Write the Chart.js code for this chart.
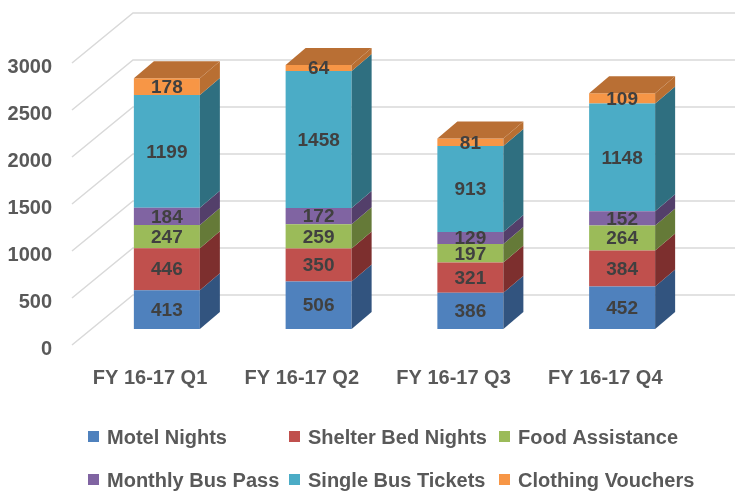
<!DOCTYPE html>
<html>
<head>
<meta charset="utf-8">
<script src="https://cdn.jsdelivr.net/npm/chart.js@4.4.0/dist/chart.umd.min.js"></script>
<style>
  html, body { margin: 0; padding: 0; background: #fff; }
</style>
</head>
<body>
<canvas id="barChart" width="735" height="493"></canvas>
<script>
var quarters = ['FY 16-17 Q1', 'FY 16-17 Q2', 'FY 16-17 Q3', 'FY 16-17 Q4'];
var motelNights = [413, 506, 386, 452];
var shelterBedNights = [446, 350, 321, 384];
var foodAssistance = [247, 259, 197, 264];
var monthlyBusPass = [184, 172, 129, 152];
var singleBusTickets = [1199, 1458, 913, 1148];
var clothingVouchers = [178, 64, 81, 109];
var yTicks = [0, 500, 1000, 1500, 2000, 2500, 3000];

var fontFamily = "'Liberation Sans', Arial, sans-serif";
var axisColor = '#595959';

// 3d look: how far the side / top faces go back
var depthX = 20, depthY = 17;
var wallX = 61, wallY = 50;

function makeSet(label, data, color, side) {
    return {
        label: label,
        data: data,
        backgroundColor: color,
        sideColor: side,
        borderWidth: 0,
        barPercentage: 1,
        categoryPercentage: 0.435,
        clip: false
    };
}

var chartData = {
    labels: quarters,
    datasets: [
        makeSet('Motel Nights', motelNights, '#4F81BD', '#32547f'),
        makeSet('Shelter Bed Nights', shelterBedNights, '#C0504D', '#7d2f2e'),
        makeSet('Food Assistance', foodAssistance, '#9BBB59', '#657a38'),
        makeSet('Monthly Bus Pass', monthlyBusPass, '#8064A2', '#533f6a'),
        makeSet('Single Bus Tickets', singleBusTickets, '#4BACC6', '#2f6f80'),
        makeSet('Clothing Vouchers', clothingVouchers, '#F79646', '#b96f32')
    ]
};

var wallGrid = {
    id: 'wallGrid',
    beforeDatasetsDraw: function(chart) {
        var ctx = chart.ctx;
        var yl = chart.scales.yl;
        var frontX = 72;
        ctx.save();
        ctx.strokeStyle = '#d9d9d9';
        ctx.lineWidth = 1.5;
        yTicks.forEach(function(v) {
            var y = yl.getPixelForValue(v);
            ctx.beginPath();
            ctx.moveTo(frontX, y);
            ctx.lineTo(frontX + wallX, y - wallY);
            ctx.lineTo(chart.width, y - wallY);
            ctx.stroke();
        });
        ctx.restore();
    }
};

var bars3d = {
    id: 'bars3d',
    afterDatasetsDraw: function(chart) {
        var ctx = chart.ctx;
        var last = chart.data.datasets.length - 1;
        ctx.save();
        chart.data.datasets.forEach(function(ds, di) {
            var meta = chart.getDatasetMeta(di);
            meta.data.forEach(function(el) {
                var left = el.x - el.width / 2;
                var right = el.x + el.width / 2;
                ctx.fillStyle = ds.sideColor;
                ctx.beginPath();
                ctx.moveTo(right, el.y);
                ctx.lineTo(right + depthX, el.y - depthY);
                ctx.lineTo(right + depthX, el.base - depthY);
                ctx.lineTo(right, el.base);
                ctx.closePath();
                ctx.fill();
                if (di === last) {
                    ctx.fillStyle = '#b96f34';
                    ctx.beginPath();
                    ctx.moveTo(left, el.y);
                    ctx.lineTo(left + depthX, el.y - depthY);
                    ctx.lineTo(right + depthX, el.y - depthY);
                    ctx.lineTo(right, el.y);
                    ctx.closePath();
                    ctx.fill();
                }
            });
        });
        // value labels
        ctx.font = 'bold 19px ' + fontFamily;
        ctx.fillStyle = '#404040';
        ctx.textAlign = 'center';
        ctx.textBaseline = 'middle';
        chart.data.datasets.forEach(function(ds, di) {
            var meta = chart.getDatasetMeta(di);
            meta.data.forEach(function(el, j) {
                ctx.fillText(String(ds.data[j]), el.x, (el.y + el.base) / 2 + 1);
            });
        });
        ctx.restore();
    }
};

var columnLegend = {
    id: 'columnLegend',
    afterDraw: function(chart) {
        var ctx = chart.ctx;
        var colX = [88, 289, 499];
        var rowY = [437, 480];
        ctx.save();
        ctx.font = 'bold 20px ' + fontFamily;
        ctx.textAlign = 'left';
        ctx.textBaseline = 'middle';
        chart.data.datasets.forEach(function(ds, i) {
            var x = colX[i % 3], y = rowY[Math.floor(i / 3)];
            ctx.fillStyle = ds.backgroundColor;
            ctx.fillRect(x, y - 6, 11, 11);
            ctx.fillStyle = axisColor;
            ctx.fillText(ds.label, x + 19, y + 1);
        });
        ctx.restore();
    }
};

var ctxB = document.getElementById('barChart').getContext('2d');
var barChart = new Chart(ctxB, {
    type: 'bar',
    data: chartData,
    plugins: [wallGrid, bars3d, columnLegend],
    options: {
        responsive: false,
        animation: false,
        layout: { padding: { top: 63, right: 37, left: 0, bottom: 0 } },
        plugins: {
            legend: { display: false },
            tooltip: { enabled: false }
        },
        scales: {
            x: { display: false, stacked: true },
            y: { display: false, stacked: true, min: -170, max: 2830 },
            yl: {
                type: 'linear',
                position: 'left',
                min: 0,
                max: 3000,
                offset: false,
                grid: { display: false, drawTicks: false },
                border: { display: false },
                afterBuildTicks: function(s) {
                    s.ticks = yTicks.map(function(v) { return { value: v }; });
                },
                afterFit: function(s) { s.width = 91; },
                ticks: {
                    padding: 39,
                    labelOffset: 4,
                    color: axisColor,
                    font: { family: fontFamily, size: 20, weight: 'bold' },
                    callback: function(v) { return String(v); }
                }
            },
            xl: {
                type: 'linear',
                position: 'bottom',
                min: -0.389,
                max: 3.611,
                offset: false,
                grid: { display: false, drawTicks: false, offset: false },
                border: { display: false },
                afterBuildTicks: function(s) {
                    s.ticks = quarters.map(function(q, i) { return { value: i }; });
                },
                afterFit: function(s) { s.height = 148; },
                ticks: {
                    padding: 21,
                    autoSkip: false,
                    maxRotation: 0,
                    color: axisColor,
                    font: { family: fontFamily, size: 20, weight: 'bold' },
                    callback: function(v) { return quarters[v]; }
                }
            }
        }
    }
});
</script>
</body>
</html>
